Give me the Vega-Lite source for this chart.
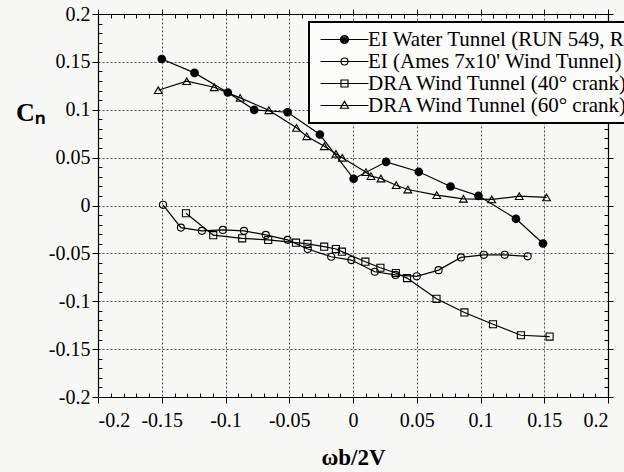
{
  "$schema": "https://vega.github.io/schema/vega-lite/v6.json",
  "width": 510,
  "height": 383,
  "autosize": {"type": "none"},
  "padding": {"left": 98, "top": 14, "right": 16, "bottom": 75},
  "background": "#f7f7f5",
  "config": {
    "view": {"stroke": null},
    "font": "Liberation Serif",
    "style": {
      "guide-label": {"font": "Liberation Serif", "fill": "black"},
      "guide-title": {"font": "Liberation Serif", "fill": "black"}
    },
    "axis": {
      "labelFont": "Liberation Serif",
      "labelFontSize": 20,
      "labelColor": "black",
      "titleFont": "Liberation Serif",
      "titleColor": "black",
      "tickColor": "black",
      "tickWidth": 1,
      "domainColor": "black",
      "domainWidth": 1.2,
      "gridColor": "#333333",
      "gridDash": [2, 2],
      "gridWidth": 1,
      "gridOpacity": 0.85
    },
    "legend": {
      "orient": "none",
      "legendX": 211,
      "legendY": 8,
      "title": null,
      "padding": 7,
      "strokeColor": "black",
      "strokeWidth": 2,
      "fillColor": "#fbfbfa",
      "labelFont": "Liberation Serif",
      "labelFontSize": 21,
      "labelColor": "black",
      "labelLimit": 500,
      "symbolSize": 100,
      "symbolStrokeWidth": 1.2,
      "symbolStrokeColor": "black",
      "symbolOffset": 18,
      "labelOffset": 13,
      "rowPadding": 0
    }
  },
  "data": {
    "values": [
      {"series": "EI Water Tunnel (RUN 549, R", "x": -0.15, "y": 0.153},
      {"series": "EI Water Tunnel (RUN 549, R", "x": -0.1243, "y": 0.1385},
      {"series": "EI Water Tunnel (RUN 549, R", "x": -0.0982, "y": 0.118},
      {"series": "EI Water Tunnel (RUN 549, R", "x": -0.0775, "y": 0.0999},
      {"series": "EI Water Tunnel (RUN 549, R", "x": -0.0513, "y": 0.0974},
      {"series": "EI Water Tunnel (RUN 549, R", "x": -0.026, "y": 0.0741},
      {"series": "EI Water Tunnel (RUN 549, R", "x": 0.0005, "y": 0.0279},
      {"series": "EI Water Tunnel (RUN 549, R", "x": 0.026, "y": 0.0456},
      {"series": "EI Water Tunnel (RUN 549, R", "x": 0.0516, "y": 0.0352},
      {"series": "EI Water Tunnel (RUN 549, R", "x": 0.0765, "y": 0.0198},
      {"series": "EI Water Tunnel (RUN 549, R", "x": 0.0984, "y": 0.0101},
      {"series": "EI Water Tunnel (RUN 549, R", "x": 0.1278, "y": -0.0139},
      {"series": "EI Water Tunnel (RUN 549, R", "x": 0.149, "y": -0.0397},
      {"series": "EI (Ames 7x10' Wind Tunnel)", "x": -0.149, "y": 0.0007},
      {"series": "EI (Ames 7x10' Wind Tunnel)", "x": -0.135, "y": -0.0231},
      {"series": "EI (Ames 7x10' Wind Tunnel)", "x": -0.1185, "y": -0.0265},
      {"series": "EI (Ames 7x10' Wind Tunnel)", "x": -0.1021, "y": -0.0255},
      {"series": "EI (Ames 7x10' Wind Tunnel)", "x": -0.0855, "y": -0.0265},
      {"series": "EI (Ames 7x10' Wind Tunnel)", "x": -0.0684, "y": -0.0307},
      {"series": "EI (Ames 7x10' Wind Tunnel)", "x": -0.0513, "y": -0.0359},
      {"series": "EI (Ames 7x10' Wind Tunnel)", "x": -0.0355, "y": -0.0454},
      {"series": "EI (Ames 7x10' Wind Tunnel)", "x": -0.0171, "y": -0.0535},
      {"series": "EI (Ames 7x10' Wind Tunnel)", "x": -0.0013, "y": -0.057},
      {"series": "EI (Ames 7x10' Wind Tunnel)", "x": 0.0171, "y": -0.0692},
      {"series": "EI (Ames 7x10' Wind Tunnel)", "x": 0.0333, "y": -0.0725},
      {"series": "EI (Ames 7x10' Wind Tunnel)", "x": 0.05, "y": -0.074},
      {"series": "EI (Ames 7x10' Wind Tunnel)", "x": 0.0671, "y": -0.0675},
      {"series": "EI (Ames 7x10' Wind Tunnel)", "x": 0.0847, "y": -0.0542},
      {"series": "EI (Ames 7x10' Wind Tunnel)", "x": 0.1026, "y": -0.0515},
      {"series": "EI (Ames 7x10' Wind Tunnel)", "x": 0.119, "y": -0.0515},
      {"series": "EI (Ames 7x10' Wind Tunnel)", "x": 0.137, "y": -0.0531},
      {"series": "DRA Wind Tunnel (40° crank)", "x": -0.131, "y": -0.0081},
      {"series": "DRA Wind Tunnel (40° crank)", "x": -0.1096, "y": -0.031},
      {"series": "DRA Wind Tunnel (40° crank)", "x": -0.0869, "y": -0.0343},
      {"series": "DRA Wind Tunnel (40° crank)", "x": -0.0665, "y": -0.036},
      {"series": "DRA Wind Tunnel (40° crank)", "x": -0.0447, "y": -0.0388},
      {"series": "DRA Wind Tunnel (40° crank)", "x": -0.0357, "y": -0.0401},
      {"series": "DRA Wind Tunnel (40° crank)", "x": -0.0226, "y": -0.043},
      {"series": "DRA Wind Tunnel (40° crank)", "x": -0.0134, "y": -0.0454},
      {"series": "DRA Wind Tunnel (40° crank)", "x": -0.0087, "y": -0.0482},
      {"series": "DRA Wind Tunnel (40° crank)", "x": 0.0097, "y": -0.0587},
      {"series": "DRA Wind Tunnel (40° crank)", "x": 0.0215, "y": -0.065},
      {"series": "DRA Wind Tunnel (40° crank)", "x": 0.0336, "y": -0.0705},
      {"series": "DRA Wind Tunnel (40° crank)", "x": 0.0424, "y": -0.0758},
      {"series": "DRA Wind Tunnel (40° crank)", "x": 0.0655, "y": -0.0975},
      {"series": "DRA Wind Tunnel (40° crank)", "x": 0.0874, "y": -0.1117},
      {"series": "DRA Wind Tunnel (40° crank)", "x": 0.1098, "y": -0.124},
      {"series": "DRA Wind Tunnel (40° crank)", "x": 0.1317, "y": -0.1355},
      {"series": "DRA Wind Tunnel (40° crank)", "x": 0.1542, "y": -0.1369},
      {"series": "DRA Wind Tunnel (60° crank)", "x": -0.1527, "y": 0.1204},
      {"series": "DRA Wind Tunnel (60° crank)", "x": -0.1304, "y": 0.1298},
      {"series": "DRA Wind Tunnel (60° crank)", "x": -0.1089, "y": 0.1235},
      {"series": "DRA Wind Tunnel (60° crank)", "x": -0.0885, "y": 0.1124},
      {"series": "DRA Wind Tunnel (60° crank)", "x": -0.066, "y": 0.0995},
      {"series": "DRA Wind Tunnel (60° crank)", "x": -0.0443, "y": 0.0811},
      {"series": "DRA Wind Tunnel (60° crank)", "x": -0.0363, "y": 0.0723},
      {"series": "DRA Wind Tunnel (60° crank)", "x": -0.0225, "y": 0.0619},
      {"series": "DRA Wind Tunnel (60° crank)", "x": -0.0134, "y": 0.054},
      {"series": "DRA Wind Tunnel (60° crank)", "x": -0.0084, "y": 0.0498},
      {"series": "DRA Wind Tunnel (60° crank)", "x": 0.0102, "y": 0.0348},
      {"series": "DRA Wind Tunnel (60° crank)", "x": 0.0141, "y": 0.0306},
      {"series": "DRA Wind Tunnel (60° crank)", "x": 0.0219, "y": 0.0282},
      {"series": "DRA Wind Tunnel (60° crank)", "x": 0.0339, "y": 0.0212},
      {"series": "DRA Wind Tunnel (60° crank)", "x": 0.043, "y": 0.0167},
      {"series": "DRA Wind Tunnel (60° crank)", "x": 0.0657, "y": 0.0108},
      {"series": "DRA Wind Tunnel (60° crank)", "x": 0.0866, "y": 0.007},
      {"series": "DRA Wind Tunnel (60° crank)", "x": 0.1088, "y": 0.0063},
      {"series": "DRA Wind Tunnel (60° crank)", "x": 0.1304, "y": 0.0097},
      {"series": "DRA Wind Tunnel (60° crank)", "x": 0.1518, "y": 0.0084}
    ]
  },
  "resolve": {"axis": {"x": "independent", "y": "independent"}},
  "layer": [
    {
      "mark": {"type": "line", "color": "black", "strokeWidth": 1.2},
      "encoding": {
        "x": {"field": "x", "type": "quantitative", "scale": {"domain": [-0.2, 0.2], "nice": false, "zero": false},
          "axis": {"orient": "bottom", "values": [-0.2, -0.15, -0.1, -0.05, 0, 0.05, 0.1, 0.15, 0.2], "grid": true, "tickSize": 6, "labelPadding": 7,
            "labelFont": "Liberation Serif", "labelFontSize": 20, "labelColor": "black",
            "labelExpr": "datum.value < 0 ? '-' + format(-datum.value, '~g') : format(datum.value, '~g')",
            "title": "ωb/2V", "titleFont": "Liberation Serif", "titleFontSize": 23, "titleFontWeight": "bold", "titleY": 60, "titleBaseline": "middle"}},
        "y": {"field": "y", "type": "quantitative", "scale": {"domain": [-0.2, 0.2], "nice": false, "zero": false},
          "axis": {"orient": "left", "values": [-0.2, -0.15, -0.1, -0.05, 0, 0.05, 0.1, 0.15, 0.2], "grid": true, "tickSize": 6, "labelPadding": 2,
            "labelFont": "Liberation Serif", "labelFontSize": 20, "labelColor": "black",
            "labelExpr": "datum.value < 0 ? '-' + format(-datum.value, '~g') : format(datum.value, '~g')",
            "title": "Cₙ", "titleFont": "Liberation Serif", "titleFontSize": 26, "titleFontWeight": "bold", "titleAngle": 0, "titleX": -68, "titleY": 98, "titleAlign": "center", "titleBaseline": "middle"}},
        "detail": {"field": "series"}
      }
    },
    {
      "transform": [{"filter": {"field": "series", "equal": "EI Water Tunnel (RUN 549, R"}}],
      "mark": {"type": "point", "shape": "circle", "filled": true, "color": "black", "size": 75, "opacity": 1},
      "encoding": {
        "x": {"field": "x", "type": "quantitative", "scale": {"domain": [-0.2, 0.2], "nice": false, "zero": false},
          "axis": {"orient": "bottom", "values": [-0.19,-0.18,-0.17,-0.16,-0.14,-0.13,-0.12,-0.11,-0.09,-0.08,-0.07,-0.06,-0.04,-0.03,-0.02,-0.01,0.01,0.02,0.03,0.04,0.06,0.07,0.08,0.09,0.11,0.12,0.13,0.14,0.16,0.17,0.18,0.19], "tickSize": -4, "labels": false, "domain": false, "grid": false, "title": null}},
        "y": {"field": "y", "type": "quantitative", "scale": {"domain": [-0.2, 0.2], "nice": false, "zero": false},
          "axis": {"orient": "left", "values": [-0.19,-0.18,-0.17,-0.16,-0.14,-0.13,-0.12,-0.11,-0.09,-0.08,-0.07,-0.06,-0.04,-0.03,-0.02,-0.01,0.01,0.02,0.03,0.04,0.06,0.07,0.08,0.09,0.11,0.12,0.13,0.14,0.16,0.17,0.18,0.19], "tickSize": -4, "labels": false, "domain": false, "grid": false, "title": null}}
      }
    },
    {
      "transform": [{"filter": {"field": "series", "equal": "EI (Ames 7x10' Wind Tunnel)"}}],
      "mark": {"type": "point", "shape": "circle", "filled": false, "color": "black", "size": 50, "strokeWidth": 1.1, "opacity": 1},
      "encoding": {
        "x": {"field": "x", "type": "quantitative", "scale": {"domain": [-0.2, 0.2], "nice": false, "zero": false},
          "axis": {"orient": "top", "values": [-0.2, -0.15, -0.1, -0.05, 0, 0.05, 0.1, 0.15, 0.2], "tickSize": 5, "labels": false, "domain": true, "grid": false, "title": null}},
        "y": {"field": "y", "type": "quantitative", "scale": {"domain": [-0.2, 0.2], "nice": false, "zero": false},
          "axis": {"orient": "right", "values": [-0.2, -0.15, -0.1, -0.05, 0, 0.05, 0.1, 0.15, 0.2], "tickSize": 5, "labels": false, "domain": true, "grid": false, "title": null}}
      }
    },
    {
      "transform": [{"filter": {"field": "series", "equal": "DRA Wind Tunnel (40° crank)"}}],
      "mark": {"type": "point", "shape": "square", "filled": false, "color": "black", "size": 50, "strokeWidth": 1.1, "opacity": 1},
      "encoding": {
        "x": {"field": "x", "type": "quantitative", "scale": {"domain": [-0.2, 0.2], "nice": false, "zero": false},
          "axis": {"orient": "top", "values": [-0.19,-0.18,-0.17,-0.16,-0.14,-0.13,-0.12,-0.11,-0.09,-0.08,-0.07,-0.06,-0.04,-0.03,-0.02,-0.01,0.01,0.02,0.03,0.04,0.06,0.07,0.08,0.09,0.11,0.12,0.13,0.14,0.16,0.17,0.18,0.19], "tickSize": -4, "labels": false, "domain": false, "grid": false, "title": null}},
        "y": {"field": "y", "type": "quantitative", "scale": {"domain": [-0.2, 0.2], "nice": false, "zero": false},
          "axis": {"orient": "right", "values": [-0.19,-0.18,-0.17,-0.16,-0.14,-0.13,-0.12,-0.11,-0.09,-0.08,-0.07,-0.06,-0.04,-0.03,-0.02,-0.01,0.01,0.02,0.03,0.04,0.06,0.07,0.08,0.09,0.11,0.12,0.13,0.14,0.16,0.17,0.18,0.19], "tickSize": -4, "labels": false, "domain": false, "grid": false, "title": null}}
      }
    },
    {
      "transform": [{"filter": {"field": "series", "equal": "DRA Wind Tunnel (60° crank)"}}],
      "mark": {"type": "point", "shape": "triangle-up", "filled": false, "color": "black", "size": 60, "strokeWidth": 1.1, "opacity": 1},
      "encoding": {
        "x": {"field": "x", "type": "quantitative", "scale": {"domain": [-0.2, 0.2], "nice": false, "zero": false}, "axis": null},
        "y": {"field": "y", "type": "quantitative", "scale": {"domain": [-0.2, 0.2], "nice": false, "zero": false}, "axis": null}
      }
    },
    {
      "transform": [{"filter": "datum.x > 1"}],
      "mark": {"type": "point", "filled": false, "color": "black", "strokeWidth": 1.2, "opacity": 1},
      "encoding": {
        "x": {"field": "x", "type": "quantitative", "scale": {"domain": [-0.2, 0.2], "nice": false, "zero": false}, "axis": null},
        "y": {"field": "y", "type": "quantitative", "scale": {"domain": [-0.2, 0.2], "nice": false, "zero": false}, "axis": null},
        "shape": {"field": "series", "type": "nominal",
          "scale": {
            "domain": ["EI Water Tunnel (RUN 549, R", "EI (Ames 7x10' Wind Tunnel)", "DRA Wind Tunnel (40° crank)", "DRA Wind Tunnel (60° crank)"],
            "range": [
              "M-4.8,0H4.8M0.8,0A0.8,0.8 0 1,1 -0.8,0A0.8,0.8 0 1,1 0.8,0M0.55,0A0.55,0.55 0 1,1 -0.55,0A0.55,0.55 0 1,1 0.55,0M0.3,0A0.3,0.3 0 1,1 -0.3,0A0.3,0.3 0 1,1 0.3,0M0.1,0A0.1,0.1 0 1,1 -0.1,0A0.1,0.1 0 1,1 0.1,0",
              "M-4.8,0H4.8M0.7,0A0.7,0.7 0 1,1 -0.7,0A0.7,0.7 0 1,1 0.7,0",
              "M-4.8,0H4.8M-0.7,-0.7H0.7V0.7H-0.7Z",
              "M-4.8,0H4.8M0,-0.85L0.8,0.55L-0.8,0.55Z"
            ]
          },
          "legend": {"title": null}
        }
      }
    }
  ]
}
